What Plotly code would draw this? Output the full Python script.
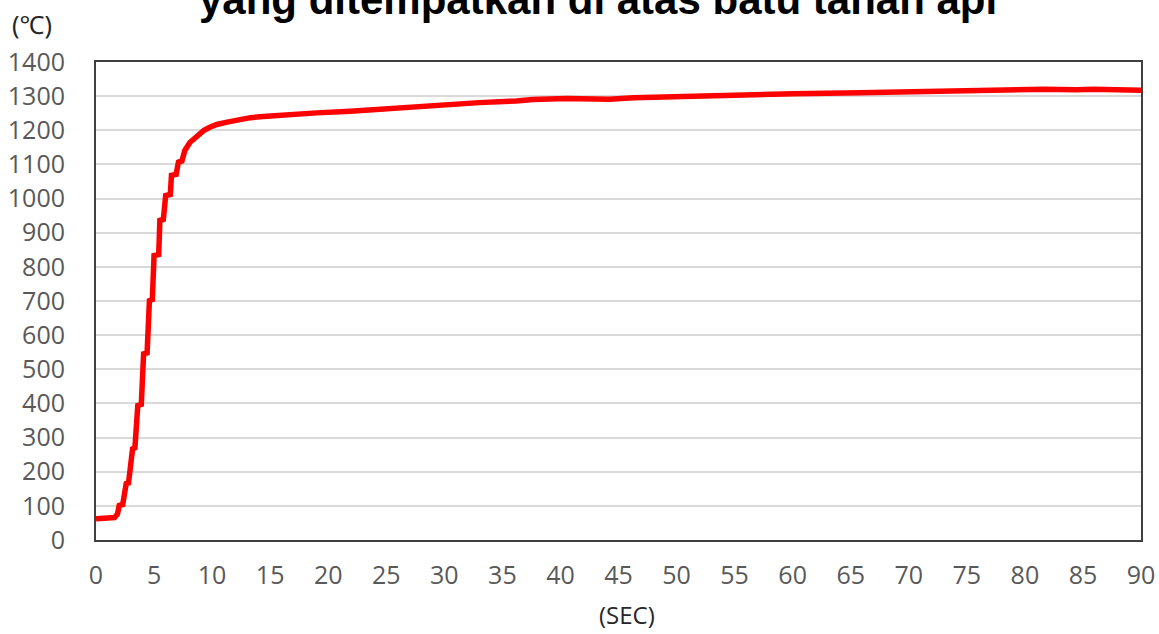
import plotly.graph_objects as go

# Data
time_s = [0, 1.2, 1.6, 1.85, 2.0, 2.3, 2.6, 2.8, 3.15, 3.35, 3.6, 3.9, 4.1, 4.4, 4.6, 4.85,
          5.0, 5.4, 5.5, 5.8, 6.0, 6.4, 6.5, 6.9, 7.1, 7.4, 7.65, 8.1, 8.7, 9.3, 9.8, 10.4,
          11.3, 12.3, 13.3, 14.7, 16.1, 19.0, 21.9, 24.8, 27.7, 30.5, 33.0, 36.2, 37.6,
          40.5, 43.4, 44.2, 46.3, 50.3, 54.3, 60.1, 65.8, 68.7, 74.4, 78.7, 80.1, 81.6,
          84.4, 85.9, 90]
temp_c = [62, 62, 66, 76, 101, 104, 165, 167, 267, 270, 394, 397, 545, 548, 701, 704,
          833, 836, 936, 939, 1009, 1012, 1068, 1071, 1107, 1110, 1141, 1165, 1185, 1200, 1209, 1217,
          1224, 1231, 1237, 1241, 1245, 1251, 1256, 1263, 1270, 1276, 1281, 1286, 1290,
          1293, 1291, 1291, 1295, 1299, 1303, 1307, 1310, 1312, 1315, 1319, 1321, 1320,
          1319, 1320, 1317]

x_ticks = list(range(0, 91, 5))
y_ticks = list(range(0, 1401, 100))

title_text = "yang ditempatkan di atas batu tahan api"
y_unit = "(℃)"
x_unit = "(SEC)"

fig = go.Figure()
fig.add_trace(go.Scatter(
    x=time_s, y=temp_c, mode="lines",
    line=dict(color="#ff0000", width=5.5),
    showlegend=False, hoverinfo="skip",
))

tick_font = dict(family="Open Sans, Lato, sans-serif", size=25, color="#595959")

fig.update_layout(
    width=1159, height=634,
    margin=dict(l=96, r=18, t=62, b=94),
    paper_bgcolor="white", plot_bgcolor="white",
    xaxis=dict(
        range=[0, 90], tickvals=x_ticks, ticktext=[str(v) for v in x_ticks],
        showgrid=False, zeroline=False, automargin=False,
        showline=True, mirror=True, linecolor="#404040", linewidth=2,
        ticks="", tickfont=tick_font, ticklabelstandoff=12,
    ),
    yaxis=dict(
        range=[0, 1400], tickvals=y_ticks, ticktext=[str(v) for v in y_ticks],
        showgrid=True, gridcolor="#d9d9d9", gridwidth=1.5, zeroline=False, automargin=False,
        showline=True, mirror=True, linecolor="#404040", linewidth=2,
        ticks="", tickfont=tick_font, ticklabelstandoff=24,
    ),
    annotations=[
        dict(text="<b>" + title_text + "</b>", xref="paper", yref="paper",
             x=0.480, y=1.078, xanchor="center", yanchor="bottom", showarrow=False,
             font=dict(family="Liberation Sans, Arial, sans-serif", size=42, color="#000000")),
        dict(text=y_unit, xref="paper", yref="paper",
             x=-0.082, y=1.080, xanchor="left", yanchor="middle", showarrow=False,
             font=dict(family="Noto Sans, sans-serif", size=25, color="#262626")),
        dict(text=x_unit, xref="paper", yref="paper",
             x=0.508, y=-0.155, xanchor="center", yanchor="middle", showarrow=False,
             font=dict(family="Open Sans, sans-serif", size=24, color="#262626")),
    ],
)

fig.write_html("out.html", config={"displayModeBar": False},
               post_script="document.body.style.margin='0';")
